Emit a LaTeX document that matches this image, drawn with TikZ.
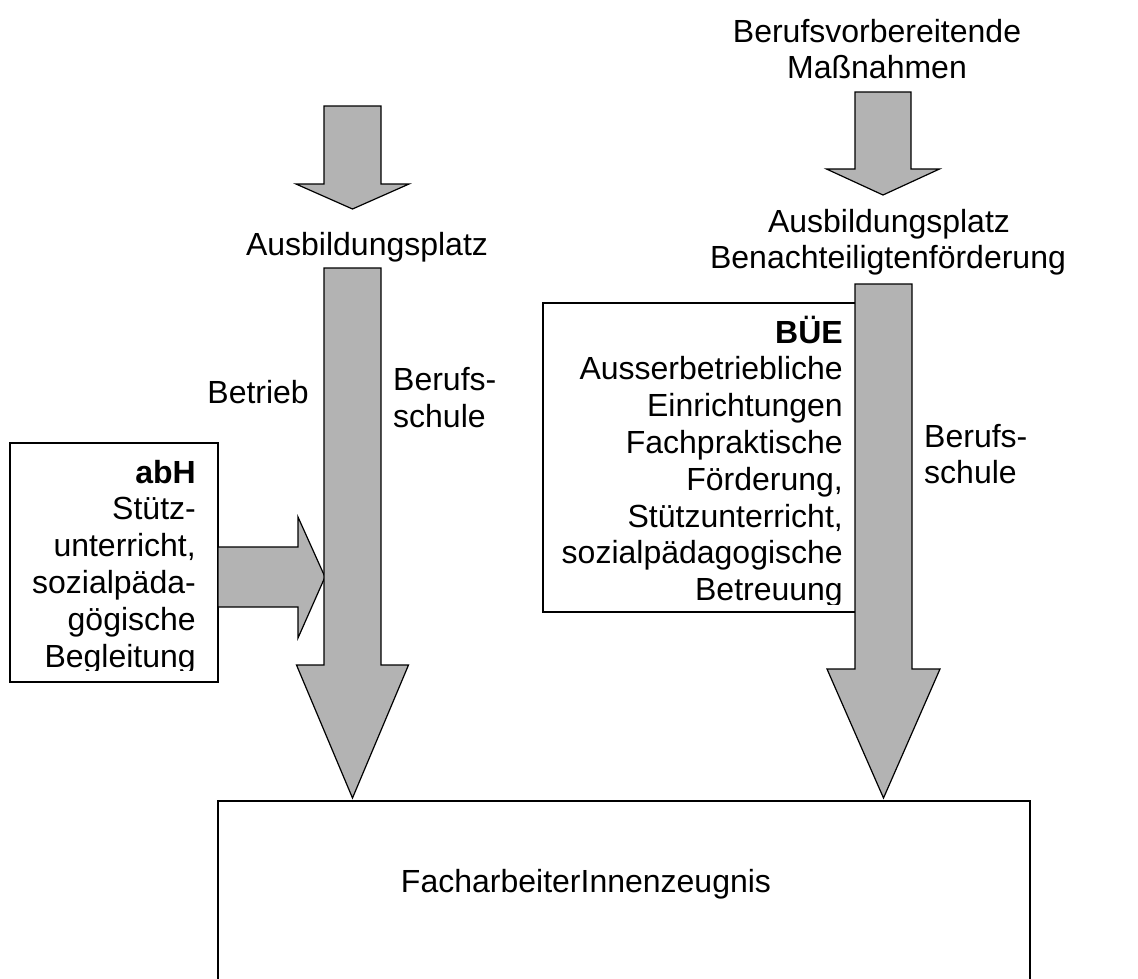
\documentclass[tikz,border=0pt]{standalone}
\usepackage{fontspec}
\setmainfont{Liberation Sans}
\definecolor{arrowgray}{RGB}{179,179,179}
\tikzset{
  blk/.style={fill=arrowgray, draw=black, line width=1.2pt, line join=miter},
  boxframe/.style={draw=black, fill=white, line width=1.3pt},
  lbl/.style={inner sep=0pt, font=\fontsize{32}{36.8}\selectfont},
}
% cx, top, head, tip, shaft half width, head half width
\newcommand\bdarrow[6]{%
  \draw[blk] (#1-#5,#2) -- (#1+#5,#2) -- (#1+#5,#3) -- (#1+#6,#3) -- (#1,#4)
     -- (#1-#6,#3) -- (#1-#5,#3) -- cycle;}
\begin{document}
\begin{tikzpicture}[x=1pt,y=-1pt]
\useasboundingbox (0,0) rectangle (1138,978);
\clip (0,0) rectangle (1138,978);

% ---- left column ----
\bdarrow{352.5}{106}{184}{209}{28.5}{56.5}
\node[lbl, anchor=base] (ausL) at (367,255) {Ausbildungsplatz};

% abH box
\draw[boxframe] (10,443) rectangle (218,682);
\begin{scope}
  \clip (10,443) rectangle (218,670);
  \foreach \t [count=\i] in {{\textbf{abH}},{Stütz-},{unterricht,},{sozialpäda-},{gögische},{Begleitung}}
    \node[lbl, anchor=base east] (abh\i) at (196,{483+36.8*(\i-1)}) {\t};
\end{scope}
% small arrow abH -> main
\draw[blk] (218,547) -- (298,547) -- (298,517) -- (325,577) -- (298,638) -- (298,607) -- (218,607) -- cycle;

\bdarrow{352.5}{268}{665}{798}{28.5}{56}
\node[lbl, anchor=base east] (betrieb) at (309,403) {Betrieb};
\node[lbl, anchor=base west] (bsL1) at (393,390) {Berufs-};
\node[lbl, anchor=base west] (bsL2) at (393,427) {schule};

% ---- right column ----
\node[lbl, anchor=base] (bvm1) at (877,42) {Berufsvorbereitende};
\node[lbl, anchor=base] (bvm2) at (877,78) {Maßnahmen};
\bdarrow{883}{92}{169}{195}{28}{56.5}
\node[lbl, anchor=base] (ausR1) at (889,232) {Ausbildungsplatz};
\node[lbl, anchor=base] (ausR2) at (888,268) {Benachteiligtenförderung};

% BUE box
\draw[boxframe] (543,303) rectangle (870,612);
\begin{scope}
  \clip (543,303) rectangle (855,604);
  \foreach \t [count=\i] in {{\textbf{BÜE}},{Ausserbetriebliche},{Einrichtungen},{Fachpraktische},{Förderung,},{Stützunterricht,},{sozialpädagogische},{Betreuung}}
    \node[lbl, anchor=base east] (bue\i) at (843,{343+36.8*(\i-1)}) {\t};
\end{scope}
\bdarrow{883.5}{284}{669}{798}{28.5}{56.5}
\node[lbl, anchor=base west] (bsR1) at (924,447) {Berufs-};
\node[lbl, anchor=base west] (bsR2) at (924,483) {schule};

% ---- bottom box ----
\draw[draw=black, line width=1.8pt] (218,1000) -- (218,801) -- (1030,801) -- (1030,1000);
\node[lbl, anchor=base] (fz) at (586,892) {FacharbeiterInnenzeugnis};
\end{tikzpicture}
\end{document}
